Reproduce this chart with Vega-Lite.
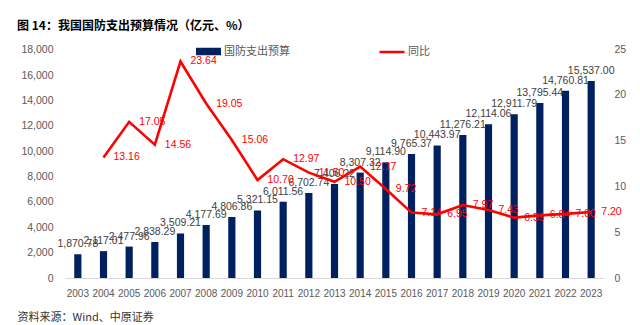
{
  "$schema": "https://vega.github.io/schema/vega-lite/v6.json",
  "width": 539,
  "height": 229,
  "autosize": {"type": "none"},
  "padding": {"left": 65, "top": 49, "right": 36, "bottom": 47},
  "background": "white",
  "config": {
    "view": {"stroke": null},
    "font": "Liberation Sans",
    "axis": {"labelColor": "#595959", "labelFontSize": 10.5, "grid": false, "ticks": false, "tickSize": 0, "domain": false, "titleFontWeight": "normal"}
  },
  "title": {
    "text": "图 14：我国国防支出预算情况（亿元、%）",
    "anchor": "start",
    "frame": "group",
    "dx": -48,
    "offset": 5,
    "font": "Noto Sans CJK SC",
    "fontSize": 12,
    "fontWeight": "bold",
    "color": "#000000"
  },
  "data": {
    "values": [
      {"year": "2003", "budget": 1870.78, "yoy": null},
      {"year": "2004", "budget": 2117.01, "yoy": 13.16},
      {"year": "2005", "budget": 2477.96, "yoy": 17.05},
      {"year": "2006", "budget": 2838.29, "yoy": 14.56},
      {"year": "2007", "budget": 3509.21, "yoy": 23.64},
      {"year": "2008", "budget": 4177.69, "yoy": 19.05},
      {"year": "2009", "budget": 4806.86, "yoy": 15.06},
      {"year": "2010", "budget": 5321.15, "yoy": 10.70},
      {"year": "2011", "budget": 6011.56, "yoy": 12.97},
      {"year": "2012", "budget": 6702.74, "yoy": 11.50},
      {"year": "2013", "budget": 7406.22, "yoy": 10.50},
      {"year": "2014", "budget": 8307.32, "yoy": 12.17},
      {"year": "2015", "budget": 9114.90, "yoy": 9.72},
      {"year": "2016", "budget": 9765.37, "yoy": 7.14},
      {"year": "2017", "budget": 10443.97, "yoy": 6.95},
      {"year": "2018", "budget": 11276.21, "yoy": 7.97},
      {"year": "2019", "budget": 12114.06, "yoy": 7.43},
      {"year": "2020", "budget": 12911.79, "yoy": 6.59},
      {"year": "2021", "budget": 13795.44, "yoy": 6.84},
      {"year": "2022", "budget": 14760.81, "yoy": 7.00},
      {"year": "2023", "budget": 15537.00, "yoy": 7.20}
    ]
  },
  "encoding": {
    "x": {
      "field": "year",
      "type": "ordinal",
      "scale": {"paddingInner": 0.72, "paddingOuter": 0.36},
      "axis": {
        "labelAngle": 0,
        "labelFontSize": 10,
        "labelPadding": 10,
        "domain": true,
        "domainColor": "#d9d9d9",
        "title": "资料来源：Wind、中原证券",
        "titleFont": "Noto Sans CJK SC",
        "titleFontSize": 11,
        "titleColor": "#333333",
        "titleX": -48,
        "titleY": 39,
        "titleAlign": "left",
        "titleBaseline": "middle",
        "titleAnchor": "start"
      }
    }
  },
  "layer": [
    {
      "encoding": {
        "y": {
          "field": "budget",
          "type": "quantitative",
          "scale": {"domain": [0, 18050], "nice": false},
          "axis": {"values": [0, 2000, 4000, 6000, 8000, 10000, 12000, 14000, 16000, 18000], "tickCount": 20, "labelOverlap": false, "labelBound": 30, "labelFlush": false, "format": ",d", "labelPadding": 12, "title": null}
        }
      },
      "layer": [
        {
          "mark": {"type": "bar"},
          "encoding": {
            "color": {
              "datum": "国防支出预算",
              "scale": {"range": ["#002060"]},
              "legend": {
                "title": null,
                "orient": "none",
                "legendX": 130,
                "legendY": -11,
                "padding": 0,
                "symbolType": "M-1,-0.3H1V0.3H-1Z",
                "symbolSize": 625,
                "symbolOpacity": 1,
                "labelFont": "Noto Sans CJK SC",
                "labelFontSize": 11,
                "labelColor": "#595959",
                "labelOffset": 2
              }
            }
          }
        },
        {
          "mark": {"type": "text", "baseline": "bottom", "dy": -5, "fontSize": 10.5, "color": "#404040"},
          "encoding": {
            "text": {"field": "budget", "type": "quantitative", "format": ",.2f"}
          }
        }
      ]
    },
    {
      "transform": [{"filter": "datum.yoy != null"}],
      "encoding": {
        "y": {
          "field": "yoy",
          "type": "quantitative",
          "scale": {"domain": [0, 25], "nice": false},
          "axis": {"orient": "right", "values": [0, 5, 10, 15, 20, 25], "tickCount": 20, "labelOverlap": false, "labelBound": 30, "labelFlush": false, "labelPadding": 10, "title": null}
        }
      },
      "layer": [
        {
          "mark": {"type": "line", "strokeWidth": 2.6},
          "encoding": {
            "stroke": {
              "datum": "同比",
              "scale": {"range": ["#ff0000"]},
              "legend": {
                "title": null,
                "orient": "none",
                "legendX": 313,
                "legendY": -11,
                "padding": 0,
                "symbolType": "stroke",
                "symbolSize": 625,
                "symbolStrokeWidth": 2.5,
                "labelFont": "Noto Sans CJK SC",
                "labelFontSize": 11,
                "labelColor": "#595959",
                "labelOffset": 2
              }
            }
          }
        },
        {
          "mark": {"type": "text", "align": "left", "baseline": "middle", "dx": 10, "fontSize": 10.5, "color": "#ff0000"},
          "encoding": {
            "text": {"field": "yoy", "type": "quantitative", "format": ".2f"}
          }
        }
      ]
    }
  ],
  "resolve": {"scale": {"y": "independent", "color": "independent", "stroke": "independent"}}
}
